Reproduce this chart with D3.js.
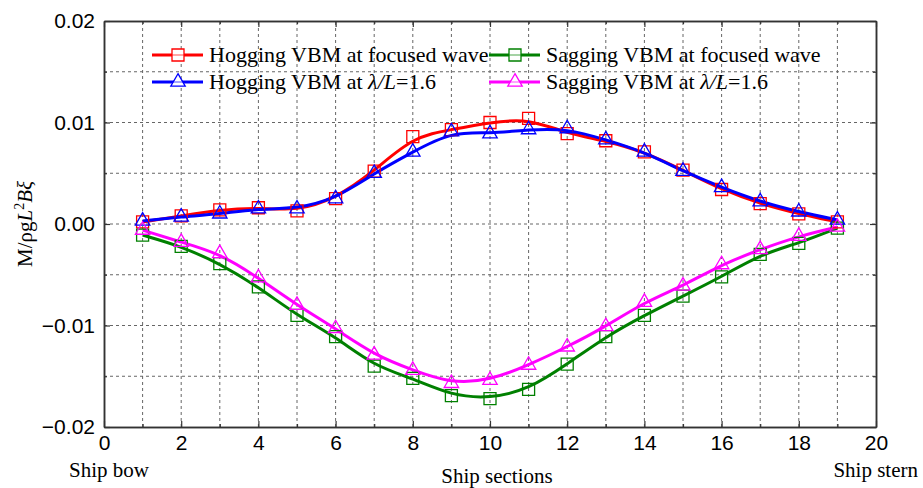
<!DOCTYPE html>
<html>
<head>
<meta charset="utf-8">
<script src="https://cdn.jsdelivr.net/npm/d3@7"></script>
<style>
  html, body { margin: 0; padding: 0; background: #fff; }
  svg { display: block; }
</style>
</head>
<body>
<svg id="chart" width="923" height="488"></svg>
<script>
// Ship sections along the hull (bow = 1, stern = 19)
const sections = [1, 2, 3, 4, 5, 6, 7, 8, 9, 10, 11, 12, 13, 14, 15, 16, 17, 18, 19];

// Non-dimensional vertical bending moment M/(ρ g L² B ξ)
const hogFocused = [0.0002, 0.0008, 0.0014, 0.0016, 0.0013, 0.0025, 0.0052, 0.0086, 0.0093, 0.0100,
                    0.0104, 0.0089, 0.0082, 0.0071, 0.0053, 0.0034, 0.0020, 0.0010, 0.0002];
const sagFocused = [-0.0011, -0.0022, -0.0039, -0.0062, -0.0090, -0.0111, -0.0140, -0.0152, -0.0169, -0.0172,
                    -0.0163, -0.0138, -0.0111, -0.0090, -0.0071, -0.0052, -0.0030, -0.0019, -0.0004];
const hogRegular = [0.0003, 0.0007, 0.0010, 0.0015, 0.0015, 0.0025, 0.0050, 0.0071, 0.0091, 0.0089,
                    0.0093, 0.0094, 0.0083, 0.0071, 0.0052, 0.0036, 0.0022, 0.0012, 0.0004];
const sagRegular = [-0.0006, -0.0018, -0.0029, -0.0053, -0.0080, -0.0103, -0.0129, -0.0144, -0.0157, -0.0154,
                    -0.0139, -0.0121, -0.0101, -0.0077, -0.0061, -0.0040, -0.0025, -0.0012, -0.0003];

const xTicks = [0, 2, 4, 6, 8, 10, 12, 14, 16, 18, 20];
const yTicks = [-0.02, -0.01, 0.00, 0.01, 0.02];

const seriesNames = ["Hogging VBM at focused wave", "Sagging VBM at focused wave",
                     "Hogging VBM at λ/L=1.6", "Sagging VBM at λ/L=1.6"];
const seriesColors = ["#ff0000", "#008000", "#0000ff", "#ff00ff"];
const seriesMarkers = ["square", "square", "triangle", "triangle"];
const seriesValues = [hogFocused, sagFocused, hogRegular, sagRegular];

const svg = d3.select("#chart");
const margin = { left: 104, right: 47, top: 21, bottom: 61 };
const W = 923, H = 488;
const x = d3.scaleLinear().domain([0, 20]).range([margin.left, W - margin.right]);
const y = d3.scaleLinear().domain([-0.02, 0.02]).range([H - margin.bottom, margin.top]);

const axisColor = "#333";
const tickFont = "'Liberation Sans', Arial, sans-serif";
const serif = "'Liberation Serif', 'Times New Roman', serif";

// Dashed grid at every section and every 0.005
const grid = svg.append("g");
d3.range(1, 20).forEach(v => {
  grid.append("line").attr("x1", x(v)).attr("x2", x(v))
    .attr("y1", y(-0.02)).attr("y2", y(0.02))
    .attr("stroke", "#666").attr("stroke-width", 1).attr("stroke-dasharray", "3,3");
});
[-0.015, -0.01, -0.005, 0, 0.005, 0.01, 0.015].forEach(v => {
  grid.append("line").attr("x1", x(0)).attr("x2", x(20))
    .attr("y1", y(v)).attr("y2", y(v))
    .attr("stroke", "#666").attr("stroke-width", 1).attr("stroke-dasharray", "3,3");
});

// Axes with inward ticks on all four sides
const fmt = d3.format(".2f");
const minus = s => s.replace("-", "\u2212");
const axB = svg.append("g").attr("transform", `translate(0,${y(-0.02)})`)
  .call(d3.axisBottom(x).tickValues(xTicks).tickSizeInner(-6).tickSizeOuter(0).tickPadding(8));
const axL = svg.append("g").attr("transform", `translate(${x(0)},0)`)
  .call(d3.axisLeft(y).tickValues(yTicks).tickFormat(d => minus(fmt(d))).tickSizeInner(-6).tickSizeOuter(0).tickPadding(9));
const axT = svg.append("g").attr("transform", `translate(0,${y(0.02)})`)
  .call(d3.axisTop(x).tickValues(xTicks).tickSizeInner(-6).tickSizeOuter(0).tickFormat(""));
const axR = svg.append("g").attr("transform", `translate(${x(20)},0)`)
  .call(d3.axisRight(y).tickValues(yTicks).tickSizeInner(-6).tickSizeOuter(0).tickFormat(""));

// Minor ticks
const minorX = d3.range(1, 20, 2);
const minorY = [-0.015, -0.005, 0.005, 0.015];
svg.append("g").attr("transform", `translate(0,${y(-0.02)})`)
  .call(d3.axisBottom(x).tickValues(minorX).tickSizeInner(-3).tickSizeOuter(0).tickFormat(""));
svg.append("g").attr("transform", `translate(0,${y(0.02)})`)
  .call(d3.axisTop(x).tickValues(minorX).tickSizeInner(-3).tickSizeOuter(0).tickFormat(""));
svg.append("g").attr("transform", `translate(${x(0)},0)`)
  .call(d3.axisLeft(y).tickValues(minorY).tickSizeInner(-3).tickSizeOuter(0).tickFormat(""));
svg.append("g").attr("transform", `translate(${x(20)},0)`)
  .call(d3.axisRight(y).tickValues(minorY).tickSizeInner(-3).tickSizeOuter(0).tickFormat(""));

svg.selectAll(".domain").attr("stroke", axisColor).attr("stroke-width", 1.5);
svg.selectAll(".tick line").attr("stroke", axisColor).attr("stroke-width", 1.2);
svg.selectAll(".tick text").attr("font-family", tickFont).attr("font-size", 21).attr("fill", "#000");

// Curves and markers
const line = d3.line().x((d, i) => x(sections[i])).y(d => y(d)).curve(d3.curveBasis);
const symbolFor = m => m === "square" ? d3.symbol().type(d3.symbolSquare).size(144)
                                      : d3.symbol().type(d3.symbolTriangle).size(90);

const plot = svg.append("g");
seriesValues.forEach((vals, k) => {
  plot.append("path").datum(vals).attr("d", line)
    .attr("fill", "none").attr("stroke", seriesColors[k]).attr("stroke-width", 3);
});
seriesValues.forEach((vals, k) => {
  plot.append("g").selectAll("path").data(vals).join("path")
    .attr("d", symbolFor(seriesMarkers[k]))
    .attr("transform", (d, i) => `translate(${x(sections[i])},${y(d)})`)
    .attr("fill", "none").attr("stroke", seriesColors[k]).attr("stroke-width", 1.3);
});

// Legend: line sample with hollow marker, then label
const legendPos = [
  { lx: 152, ty: 55 }, { lx: 489, ty: 55 },
  { lx: 152, ty: 82 }, { lx: 489, ty: 82 }
];
seriesNames.forEach((name, k) => {
  const p = legendPos[k];
  const g = svg.append("g");
  g.append("line").attr("x1", p.lx).attr("x2", p.lx + 51).attr("y1", p.ty).attr("y2", p.ty)
    .attr("stroke", seriesColors[k]).attr("stroke-width", 3);
  g.append("path").attr("d", symbolFor(seriesMarkers[k]))
    .attr("transform", `translate(${p.lx + 26},${p.ty})`)
    .attr("fill", "#fff").attr("stroke", seriesColors[k]).attr("stroke-width", 1.3);
  g.append("line").attr("x1", p.lx + 20).attr("x2", p.lx + 32).attr("y1", p.ty).attr("y2", p.ty)
    .attr("stroke", seriesColors[k]).attr("stroke-width", 1).attr("opacity", 0.7);
  const t = g.append("text").attr("x", p.lx + 57).attr("y", p.ty + 7)
    .attr("font-family", serif).attr("font-size", 22).attr("fill", "#000");
  if (k < 2) {
    t.text(name);
  } else {
    t.append("tspan").text(name.replace("λ/L=1.6", ""));
    t.append("tspan").attr("font-style", "italic").text("λ/L");
    t.append("tspan").text("=1.6");
  }
});

// Axis titles
svg.append("text").attr("x", 69).attr("y", 477).attr("font-family", serif).attr("font-size", 21)
  .text("Ship bow");
svg.append("text").attr("x", 497).attr("y", 483).attr("text-anchor", "middle")
  .attr("font-family", serif).attr("font-size", 21).text("Ship sections");
svg.append("text").attr("x", 918).attr("y", 477).attr("text-anchor", "end")
  .attr("font-family", serif).attr("font-size", 21).text("Ship stern");

const yl = svg.append("text")
  .attr("transform", `translate(32,${y(0)}) rotate(-90)`)
  .attr("text-anchor", "middle").attr("font-family", serif).attr("font-size", 21);
yl.append("tspan").text("M/ρg");
yl.append("tspan").attr("font-style", "italic").text("L");
yl.append("tspan").attr("font-size", 14).attr("dy", -8).text("2");
yl.append("tspan").attr("font-style", "italic").attr("dy", 8).text("Bξ");
</script>
</body>
</html>
